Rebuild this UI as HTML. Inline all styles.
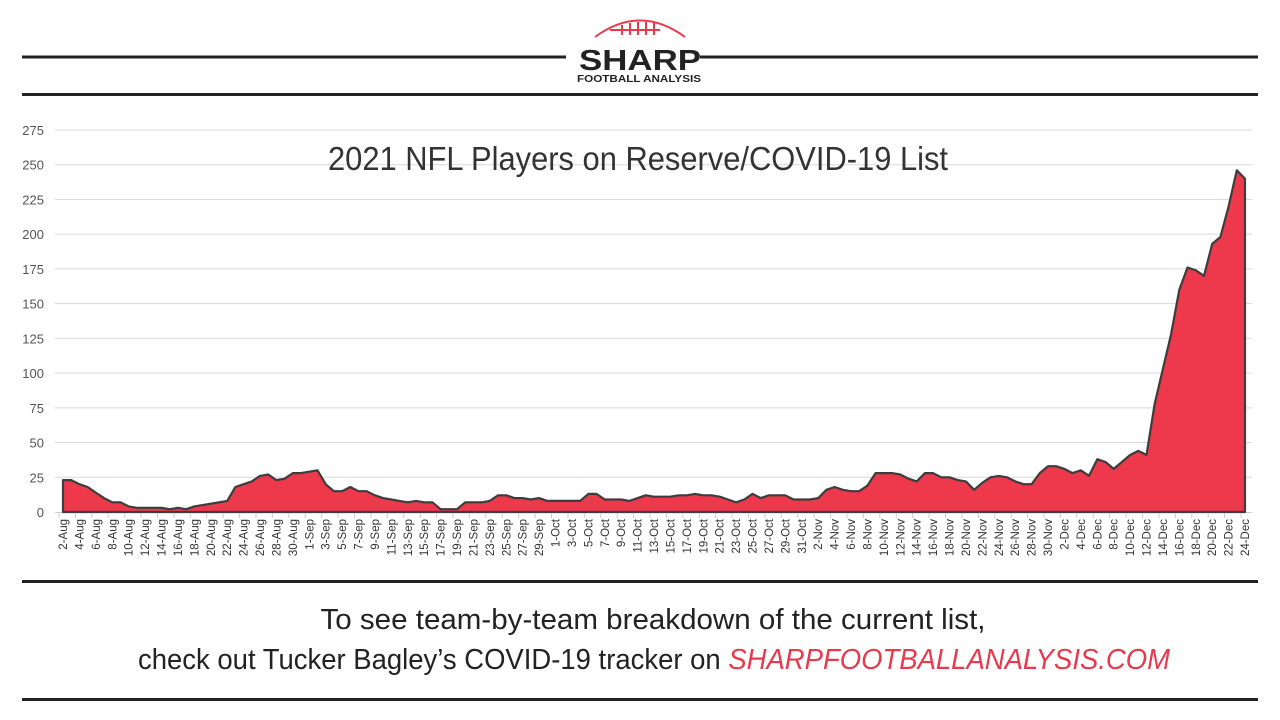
<!DOCTYPE html>
<html><head><meta charset="utf-8"><style>
html,body{margin:0;padding:0;background:#fff;width:1280px;height:720px;overflow:hidden}
svg{display:block}
text{font-family:"Liberation Sans Narrow","Liberation Sans",sans-serif}
</style></head><body>
<svg id="s" width="1280" height="720" viewBox="0 0 1280 720" xmlns="http://www.w3.org/2000/svg">
<rect width="1280" height="720" fill="#fff"/>
<line x1="22" y1="57" x2="566" y2="57" stroke="#222" stroke-width="3"/>
<line x1="700" y1="57" x2="1258" y2="57" stroke="#222" stroke-width="3"/>
<line x1="22" y1="94.5" x2="1258" y2="94.5" stroke="#222" stroke-width="3"/>
<line x1="22" y1="581.5" x2="1258" y2="581.5" stroke="#222" stroke-width="3"/>
<line x1="22" y1="699.5" x2="1258" y2="699.5" stroke="#222" stroke-width="3"/>
<path d="M595,37 Q640,4 685,37" fill="none" stroke="#e8394d" stroke-width="2"/>
<g stroke="#e8394d" stroke-width="2"><line x1="610" y1="30" x2="660" y2="30"/><line x1="622" y1="25" x2="622" y2="35"/><line x1="630" y1="23" x2="630" y2="35"/><line x1="638" y1="22" x2="638" y2="35"/><line x1="646" y1="22" x2="646" y2="35"/><line x1="654" y1="23" x2="654" y2="35"/></g>
<text x="640" y="70" text-anchor="middle" font-family="Liberation Sans" font-weight="bold" font-size="29" fill="#222" style="font-family:'Liberation Sans',sans-serif" textLength="122" lengthAdjust="spacingAndGlyphs">SHARP</text>
<text x="639" y="82" text-anchor="middle" font-weight="bold" font-size="10" fill="#222" style="font-family:'Liberation Sans',sans-serif" textLength="124" lengthAdjust="spacingAndGlyphs">FOOTBALL ANALYSIS</text>
<g id="grid"></g>
<text x="638" y="170" text-anchor="middle" font-size="33" fill="#333" textLength="620" lengthAdjust="spacingAndGlyphs">2021 NFL Players on Reserve/COVID-19  List</text>
<g id="plot"></g>
<text x="653" y="629" text-anchor="middle" font-size="29" fill="#222" textLength="665" lengthAdjust="spacingAndGlyphs">To see team-by-team  breakdown of the current list,</text>
<text x="138" y="669" font-size="29" fill="#222" textLength="1032" lengthAdjust="spacingAndGlyphs">check out Tucker Bagley’s COVID-19 tracker on <tspan fill="#e8394d" font-style="italic">SHARPFOOTBALLANALYSIS.COM</tspan></text>
</svg>
<script>
var d=[23,23,20,18,14,10,7,7,4,3,3,3,3,2,3,2,4,5,6,7,8,18,20,22,26,27,23,24,28,28,
29,30,20,15,15,18,15,15,12,10,9,8,7,8,7,7,2,2,2,7,7,7,8,12,12,10,10,9,10,8,
8,8,8,8,13,13,9,9,9,8,10,12,11,11,11,12,12,13,12,12,11,9,7,9,13,10,12,12,12,9,9,
9,10,16,18,16,15,15,19,28,28,28,27,24,22,28,28,25,25,23,22,16,21,25,26,25,22,20,20,28,33,
33,31,28,30,26,38,36,31,36,41,44,41,78,103,128,160,176,174,170,193,198,220,246,240];
var NS="http://www.w3.org/2000/svg";
function el(p,t,a,txt){var e=document.createElementNS(NS,t);for(var k in a)e.setAttribute(k,a[k]);if(txt!=null)e.textContent=txt;p.appendChild(e);return e;}
var g=document.getElementById('grid'),pl=document.getElementById('plot');
var y0=512,sc=(512-130)/275,x0=63,dx=(1245-63)/144;
for(var v=0;v<=275;v+=25){var y=y0-v*sc;
 if(v>0)el(g,'line',{x1:55,x2:1252,y1:y,y2:y,stroke:'#d9d9d9','stroke-width':1});
 el(g,'text',{x:44,y:y+5,'text-anchor':'end','font-size':13,fill:'#555'},v);}
el(g,'line',{x1:55,x2:1252,y1:512.5,y2:512.5,stroke:'#ccc','stroke-width':1});
var pts=d.map(function(v,i){return (x0+i*dx).toFixed(1)+','+(y0-v*sc).toFixed(1)});
el(pl,'path',{d:'M'+x0+','+y0+' L'+pts.join(' L')+' L'+(x0+144*dx)+','+y0+' Z',fill:'#ee384c',stroke:'#3d3d3d','stroke-width':2.2,'stroke-linejoin':'round'});
var mon=[['Aug',2,31],['Sep',1,30],['Oct',1,31],['Nov',1,30],['Dec',1,24]],i=0;
mon.forEach(function(m){for(var dd=m[1];dd<=m[2];dd++){var x=x0+i*dx;
 if(i%2==0){el(pl,'line',{x1:x-4,x2:x-4,y1:513,y2:518,stroke:'#ccc'});
 el(pl,'text',{transform:'translate('+(x+4)+',519) rotate(-90)','text-anchor':'end','font-size':11.5,fill:'#333'},dd+'-'+m[0]);}
 i++;}});
</script>
</body></html>
